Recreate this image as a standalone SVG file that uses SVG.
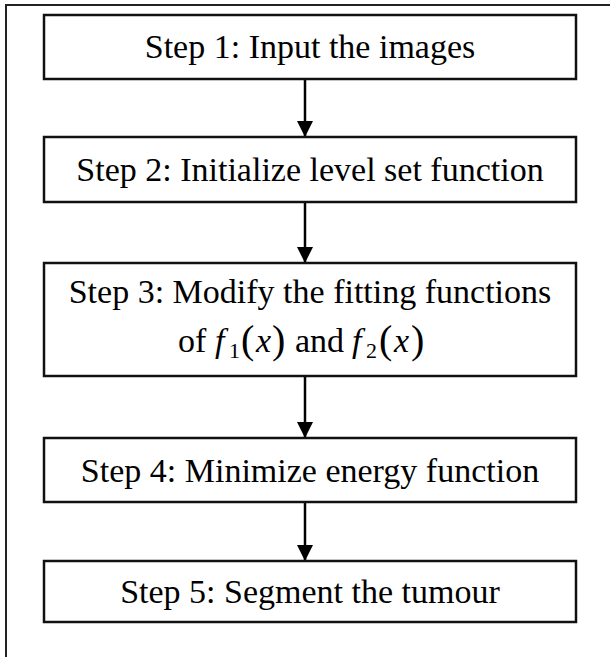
<svg xmlns="http://www.w3.org/2000/svg" width="610" height="657" viewBox="0 0 610 657">
  <style>
    .box { fill: #ffffff; stroke: #111111; stroke-width: 2.5; }
    .lbl { font-family: "Liberation Serif", "Times New Roman", serif; font-size: 34px; fill: #000000; text-anchor: middle; }
    .math { font-family: "Liberation Serif", "Times New Roman", serif; fill: #000000; }
    .conn { stroke: #000000; stroke-width: 2.5; fill: none; }
  </style>
  <defs>
    <marker id="arrow" markerUnits="userSpaceOnUse" markerWidth="16" markerHeight="16" refX="16" refY="8" orient="auto">
      <path d="M0,0 L16,8 L0,16 Z" fill="#000000"/>
    </marker>
  </defs>

  <rect width="610" height="657" fill="#ffffff"/>
  <!-- outer frame (runs off the right and bottom edges) -->
  <path d="M6,657 L6,5 L610,5" fill="none" stroke="#222222" stroke-width="2"/>

  <g id="connectors">
    <line class="conn" x1="305" y1="79" x2="305" y2="137" marker-end="url(#arrow)"/>
    <line class="conn" x1="305" y1="202" x2="305" y2="263" marker-end="url(#arrow)"/>
    <line class="conn" x1="305" y1="376" x2="305" y2="438" marker-end="url(#arrow)"/>
    <line class="conn" x1="305" y1="502" x2="305" y2="561" marker-end="url(#arrow)"/>
  </g>

  <g id="step1">
    <rect class="box" x="44" y="15" width="532" height="64"/>
    <text class="lbl" x="310" y="58">Step 1: Input the images</text>
  </g>

  <g id="step2">
    <rect class="box" x="44" y="137" width="532" height="65"/>
    <text class="lbl" x="310" y="181">Step 2: Initialize level set function</text>
  </g>

  <g id="step3">
    <rect class="box" x="44" y="263" width="532" height="113"/>
    <text class="lbl" x="310" y="303">Step 3: Modify the fitting functions</text>
    <text class="math" font-size="34" y="352">
      <tspan x="178">of</tspan>
      <tspan x="215" font-style="italic">f</tspan>
      <tspan x="229" y="358" font-size="22">1</tspan>
      <tspan x="241" y="353" font-size="40">(</tspan>
      <tspan x="256" y="352" font-style="italic">x</tspan>
      <tspan x="272" y="353" font-size="40">)</tspan>
      <tspan x="295" y="352">and</tspan>
      <tspan x="352" font-style="italic">f</tspan>
      <tspan x="366" y="358" font-size="22">2</tspan>
      <tspan x="379" y="353" font-size="40">(</tspan>
      <tspan x="394" y="352" font-style="italic">x</tspan>
      <tspan x="411" y="353" font-size="40">)</tspan>
    </text>
  </g>

  <g id="step4">
    <rect class="box" x="44" y="438" width="532" height="64"/>
    <text class="lbl" x="310" y="482">Step 4: Minimize energy function</text>
  </g>

  <g id="step5">
    <rect class="box" x="44" y="561" width="532" height="61"/>
    <text class="lbl" x="310" y="603">Step 5: Segment the tumour</text>
  </g>
</svg>
